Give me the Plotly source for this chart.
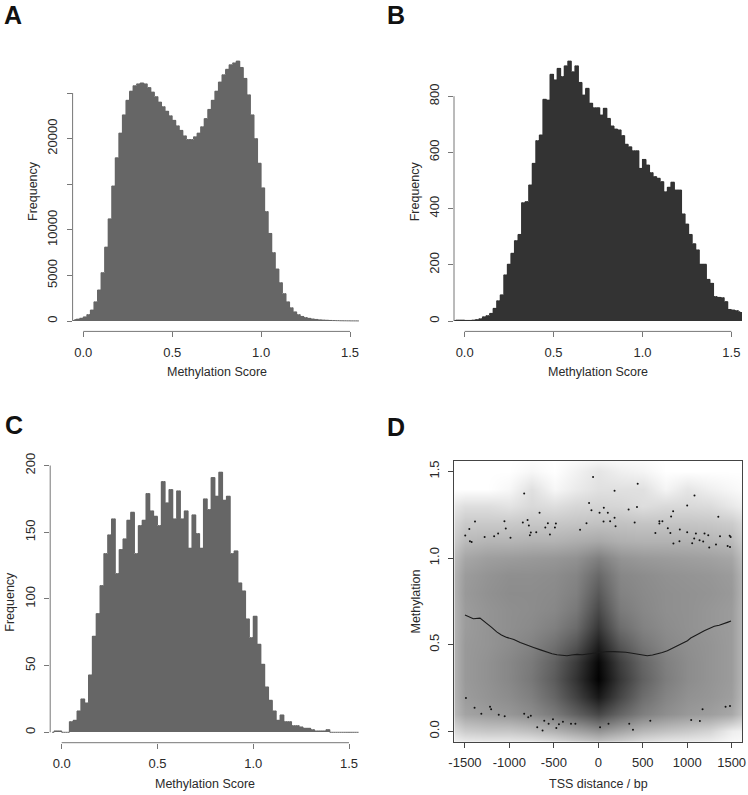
import plotly.graph_objects as go

W, H = 748, 795

# ---------------- Histogram data (breaks of 0.02 starting at -0.06) ----------------
bin_start = -0.06
bin_width = 0.02

counts_a = [150, 200, 300, 450, 700, 1200, 2100, 3400, 5300, 8100,
            11200, 14800, 17900, 20600, 22600, 24200, 25200, 25800, 26000, 26100,
            26000, 25600, 25100, 24600, 24000, 23500, 23000, 22500, 22000, 21400,
            20900, 20300, 19900, 19900, 20200, 20600, 21300, 22200, 23200, 24200,
            25200, 26200, 27000, 27600, 28100, 28300, 28500, 27800, 26600, 24800,
            22600, 20000, 17300, 14600, 12000, 9600, 7500, 5700, 4200, 3000,
            2100, 1450, 1000, 700, 500, 380, 290, 220, 170, 130,
            100, 80, 60, 50, 40, 30, 25, 20, 15, 12, 10]

counts_b = [3, 3, 3, 2, 2, 3, 5, 8, 15, 19,
            27, 45, 72, 93, 164, 202, 241, 286, 308, 421,
            425, 484, 561, 642, 662, 789, 786, 878, 858, 899,
            870, 908, 925, 887, 908, 849, 804, 828, 775, 759,
            759, 733, 757, 721, 694, 683, 680, 660, 629, 620,
            606, 606, 543, 575, 555, 528, 514, 508, 496, 460,
            476, 494, 466, 466, 381, 345, 308, 275, 253, 202,
            202, 148, 134, 87, 84, 83, 69, 41, 39, 37, 33]

counts_c = [0, 1, 1, 0, 0, 8, 9, 16, 25, 22,
            43, 72, 89, 110, 134, 148, 160, 119, 137, 145,
            159, 165, 134, 155, 159, 179, 166, 162, 155, 188,
            172, 182, 160, 181, 160, 166, 138, 163, 149, 138,
            175, 167, 191, 177, 195, 174, 177, 134, 136, 112,
            106, 85, 71, 87, 66, 51, 34, 24, 16, 9,
            13, 8, 8, 5, 5, 4, 3, 3, 2, 1,
            1, 1, 2, 0, 0, 0, 0, 0, 0, 0, 0]

hist_xticks = [0.0, 0.5, 1.0, 1.5]
hist_xticktext = ["0.0", "0.5", "1.0", "1.5"]
a_yticks = [0, 5000, 10000, 15000, 20000, 25000]
a_yticktext = ["0", "5000", "10000", "", "20000", ""]
b_yticks = [0, 200, 400, 600, 800]
c_yticks = [0, 50, 100, 150, 200]

# ---------------- Panel D data ----------------
dens_x = [-1750, -1500, -1250, -1000, -750, -500, -250, 0, 250, 500, 750, 1000, 1250, 1500, 1750]
dens_y = [-0.1, 0.0, 0.1, 0.2, 0.3, 0.4, 0.5, 0.6, 0.7, 0.8, 0.9, 1.0, 1.1, 1.2, 1.3, 1.4, 1.5, 1.6]
dens_z = [
    [0, 0, 0, 0, 0, 0.03, 0.07, 0.10, 0.07, 0.03, 0, 0, 0, 0, 0],
    [0.08, 0.20, 0.22, 0.22, 0.25, 0.30, 0.36, 0.42, 0.35, 0.28, 0.24, 0.21, 0.17, 0.07, 0.03],
    [0.18, 0.36, 0.39, 0.41, 0.45, 0.52, 0.62, 0.72, 0.60, 0.50, 0.44, 0.40, 0.38, 0.34, 0.15],
    [0.19, 0.39, 0.42, 0.45, 0.50, 0.60, 0.74, 0.90, 0.72, 0.57, 0.48, 0.43, 0.41, 0.38, 0.17],
    [0.19, 0.40, 0.43, 0.47, 0.53, 0.64, 0.80, 0.99, 0.78, 0.62, 0.51, 0.45, 0.42, 0.39, 0.18],
    [0.19, 0.40, 0.43, 0.47, 0.52, 0.62, 0.77, 0.97, 0.75, 0.60, 0.50, 0.45, 0.42, 0.39, 0.18],
    [0.19, 0.40, 0.42, 0.45, 0.49, 0.56, 0.67, 0.88, 0.66, 0.54, 0.47, 0.44, 0.42, 0.39, 0.18],
    [0.19, 0.39, 0.42, 0.44, 0.46, 0.50, 0.58, 0.78, 0.57, 0.49, 0.45, 0.43, 0.41, 0.39, 0.18],
    [0.19, 0.39, 0.42, 0.44, 0.45, 0.47, 0.53, 0.71, 0.52, 0.47, 0.44, 0.43, 0.41, 0.39, 0.18],
    [0.19, 0.40, 0.43, 0.45, 0.45, 0.46, 0.50, 0.65, 0.49, 0.46, 0.44, 0.43, 0.42, 0.40, 0.18],
    [0.19, 0.39, 0.42, 0.44, 0.44, 0.45, 0.48, 0.59, 0.47, 0.45, 0.43, 0.42, 0.41, 0.39, 0.18],
    [0.17, 0.35, 0.38, 0.39, 0.40, 0.41, 0.43, 0.50, 0.42, 0.40, 0.39, 0.38, 0.37, 0.35, 0.15],
    [0.13, 0.27, 0.29, 0.29, 0.30, 0.30, 0.32, 0.34, 0.31, 0.30, 0.30, 0.30, 0.29, 0.27, 0.12],
    [0.10, 0.21, 0.21, 0.21, 0.22, 0.22, 0.23, 0.24, 0.24, 0.23, 0.23, 0.23, 0.22, 0.20, 0.09],
    [0.06, 0.13, 0.13, 0.11, 0.15, 0.13, 0.16, 0.17, 0.16, 0.13, 0.15, 0.15, 0.14, 0.09, 0.03],
    [0, 0, 0, 0.03, 0.12, 0.03, 0.08, 0.12, 0.12, 0.12, 0.04, 0.10, 0.06, 0.03, 0],
    [0, 0, 0, 0, 0.03, 0, 0.05, 0.10, 0.06, 0.04, 0, 0, 0, 0, 0],
    [0, 0, 0, 0, 0, 0, 0, 0, 0, 0, 0, 0, 0, 0, 0],
]

dots_x = [-59, -834, -661, -104, -77, -133, -205, -1387, -1451, -1497, -1444, -1425, -1279, -1172,
          -1127, -1056, -1041, -988, -849, -796, -781, -759, -770, -698, -567, -596, -477, -488, -544,
          443, 183, 1082, 1000, 1350, 62, 435, 341, 14, 107, 183, 59, 133, 194, 409, 842, 819, 687,
          721, 687, 782, 811, 642, 917, 1000, 1098, 1195, 1237, 1079, 1139, 1180, 1056, 913, 845,
          1369, 1478, 1489, 1324, 1455, 1482, 1248,
          -1489, -1392, -1316, -1218, -1206, -1120, -1053, -834, -788, -759, -687, -627, -608, -559,
          -510, -472, -443, -398, -307, -258,
          20, 115, 348, 390, 585, 1045, 1143, 1173, 1432, 1482]
dots_y = [1.468, 1.372, 1.261, 1.318, 1.276, 1.201, 1.163, 1.211, 1.168, 1.130, 1.097, 1.092, 1.121, 1.126,
          1.142, 1.213, 1.171, 1.117, 1.205, 1.219, 1.188, 1.148, 1.132, 1.149, 1.201, 1.176, 1.200, 1.176, 1.136,
          1.428, 1.388, 1.361, 1.303, 1.238, 1.290, 1.294, 1.280, 1.261, 1.261, 1.232, 1.211, 1.213, 1.184, 1.205,
          1.270, 1.240, 1.213, 1.213, 1.200, 1.172, 1.145, 1.145, 1.165, 1.149, 1.142, 1.142, 1.132, 1.113, 1.103,
          1.096, 1.086, 1.097, 1.084, 1.125, 1.128, 1.122, 1.078, 1.069, 1.063, 1.061,
          0.192, 0.136, 0.102, 0.142, 0.127, 0.096, 0.087, 0.102, 0.081, 0.090, 0.023, 0.004, 0.061, 0.044,
          0.069, 0.019, 0.040, 0.055, 0.044, 0.044,
          0.023, 0.044, 0.044, 0.009, 0.061, 0.065, 0.059, 0.127, 0.142, 0.146]

tss_line_x = [-1500, -1450, -1406, -1331, -1256, -1200, -1143, -1090, -1030, -950, -879, -800, -728,
              -650, -578, -520, -465, -410, -352, -300, -239, -180, -126, -70, -13, 40, 100, 170, 251,
              310, 364, 420, 477, 551, 610, 664, 720, 777, 830, 890, 950, 1003, 1040, 1079, 1130, 1192,
              1250, 1305, 1360, 1418, 1460, 1493]
tss_line_y = [0.671, 0.660, 0.650, 0.653, 0.625, 0.600, 0.574, 0.556, 0.542, 0.530, 0.513, 0.500, 0.484,
              0.470, 0.456, 0.448, 0.442, 0.438, 0.436, 0.440, 0.444, 0.442, 0.446, 0.450, 0.456, 0.459, 0.461,
              0.460, 0.459, 0.456, 0.452, 0.447, 0.440, 0.436, 0.440, 0.446, 0.455, 0.465, 0.478, 0.494, 0.510,
              0.523, 0.538, 0.551, 0.563, 0.580, 0.592, 0.606, 0.612, 0.625, 0.630, 0.636]
d_xticks = [-1500, -1000, -500, 0, 500, 1000, 1500]
d_yticks = [0.0, 0.5, 1.0, 1.5]
d_yticktext = ["0.0", "0.5", "1.0", "1.5"]

# ---------------- Styling ----------------
FONT = "Liberation Sans, Arial, Helvetica, sans-serif"
TEXT_COL = "#2a2a2a"
AXIS_COL = "#777777"
BOX_COL = "#444444"
FS = 13

def fx(p):
    return p / W

def fy(p):
    return 1 - p / H

centers = [round(bin_start + bin_width * (i + 0.5), 4) for i in range(len(counts_a))]

fig = go.Figure()
for cnt, col, xa, ya in [(counts_a, "#666666", "x", "y"), (counts_b, "#333333", "x2", "y2"),
                         (counts_c, "#666666", "x3", "y3")]:
    fig.add_trace(go.Bar(x=centers, y=cnt, width=bin_width,
                         marker=dict(color=col, line=dict(width=0)),
                         xaxis=xa, yaxis=ya, hoverinfo="skip"))
    # thin outline along the bar tops so that very low bins stay visible (as in R)
    fig.add_trace(go.Scatter(x=centers, y=cnt, mode="lines", line=dict(color=col, width=1, shape="hvh"),
                             xaxis=xa, yaxis=ya, hoverinfo="skip"))

fig.add_trace(go.Heatmap(x=dens_x, y=dens_y, z=dens_z, colorscale=[[0, "#ffffff"], [1, "#000000"]],
                         zmin=0, zmax=1, zsmooth="best", showscale=False, xaxis="x4", yaxis="y4",
                         hoverinfo="skip"))
fig.add_trace(go.Scatter(x=dots_x, y=dots_y, mode="markers", marker=dict(size=2, color="#111111", line=dict(width=0)),
                         xaxis="x4", yaxis="y4", hoverinfo="skip"))
fig.add_trace(go.Scatter(x=tss_line_x, y=tss_line_y, mode="lines", line=dict(color="#1a1a1a", width=1.1),
                         xaxis="x4", yaxis="y4", hoverinfo="skip"))

# Domains in pixels
dom = {
    "A": ((72.6, 360.7), (50.7, 331.4)),
    "B": ((454.0, 742.0), (50.7, 331.4)),
    "C": ((50.2, 360.5), (461.8, 742.7)),
    "D": ((454.3, 742.3), (461.0, 741.7)),
}

def xdom(k):
    (l, r), _ = dom[k]
    return [fx(l), fx(r)]

def ydom(k):
    _, (t, b) = dom[k]
    return [fy(b), fy(t)]

def yr(vals):
    m = max(vals)
    return [-0.04 * m, 1.04 * m]

tickfont = dict(family=FONT, size=FS, color=TEXT_COL)
common_x = dict(range=[-0.06, 1.56], tickvals=hist_xticks, ticktext=hist_xticktext, ticks="outside",
                ticklen=5, tickcolor=AXIS_COL, tickwidth=1, showline=False, showgrid=False, zeroline=False,
                tickfont=tickfont, ticklabelstandoff=4, fixedrange=True, automargin=False)
common_y = dict(ticks="outside", ticklen=5, tickcolor=AXIS_COL, tickwidth=1, showline=False, showgrid=False,
                zeroline=False, tickfont=tickfont, tickangle=-90, ticklabelstandoff=4, fixedrange=True,
                automargin=False)

fig.update_layout(
    template="none",
    width=W, height=H, margin=dict(l=0, r=0, t=0, b=0, pad=0), autosize=False,
    paper_bgcolor="white", plot_bgcolor="white", showlegend=False, bargap=0,
    font=dict(family=FONT, color=TEXT_COL),
    xaxis=dict(domain=xdom("A"), anchor="y", **common_x),
    yaxis=dict(domain=ydom("A"), anchor="x", range=yr(counts_a), tickvals=a_yticks, ticktext=a_yticktext, **common_y),
    xaxis2=dict(domain=xdom("B"), anchor="y2", **common_x),
    yaxis2=dict(domain=ydom("B"), anchor="x2", range=yr(counts_b), tickvals=b_yticks,
                ticktext=[str(v) for v in b_yticks], **common_y),
    xaxis3=dict(domain=xdom("C"), anchor="y3", **common_x),
    yaxis3=dict(domain=ydom("C"), anchor="x3", range=yr(counts_c), tickvals=c_yticks,
                ticktext=[str(v) for v in c_yticks], **common_y),
    xaxis4=dict(domain=xdom("D"), anchor="y4", range=[-1620, 1620], tickvals=d_xticks,
                ticktext=[str(v) for v in d_xticks], ticks="outside", ticklen=5, tickcolor=BOX_COL,
                showline=True, mirror=True, linecolor=BOX_COL, linewidth=1, showgrid=False, zeroline=False,
                tickfont=tickfont, ticklabelstandoff=4, fixedrange=True, automargin=False),
    yaxis4=dict(domain=ydom("D"), anchor="x4", range=[-0.06, 1.56], tickvals=d_yticks, ticktext=d_yticktext,
                ticks="outside", ticklen=5, tickcolor=BOX_COL, showline=True, mirror=True, linecolor=BOX_COL,
                linewidth=1, showgrid=False, zeroline=False, tickfont=tickfont, tickangle=-90,
                ticklabelstandoff=4, fixedrange=True, automargin=False),
)

# R-style axis lines (from first to last tick) for the histograms
shapes = []
for xa, ya, yt in [("x", "y", a_yticks), ("x2", "y2", b_yticks), ("x3", "y3", c_yticks)]:
    shapes.append(dict(type="line", xref=xa, yref=ya + " domain", x0=hist_xticks[0], x1=hist_xticks[-1],
                       y0=0, y1=0, line=dict(color=AXIS_COL, width=1)))
    shapes.append(dict(type="line", xref=xa + " domain", yref=ya, x0=0, x1=0, y0=yt[0], y1=yt[-1],
                       line=dict(color=AXIS_COL, width=1)))
fig.update_layout(shapes=shapes)

ann = []
def text(x, y, s, size=12.5, angle=0, bold=False, xanchor="center"):
    ann.append(dict(x=fx(x), y=fy(y), xref="paper", yref="paper", text=("<b>%s</b>" % s) if bold else s,
                    showarrow=False, textangle=angle, xanchor=xanchor, yanchor="middle",
                    font=dict(family=FONT, size=size, color="#111111" if bold else TEXT_COL)))

# axis titles
text(216.6, 372, "Methylation Score")
text(598, 372, "Methylation Score")
text(205, 784, "Methylation Score")
text(598, 784, "TSS distance / bp")
text(33, 191, "Frequency", angle=-90)
text(415.3, 191, "Frequency", angle=-90)
text(10, 601.7, "Frequency", angle=-90)
text(415.5, 602, "Methylation", angle=-90)

# panel letters
text(2, 15.5, "A", size=25, bold=True, xanchor="left")
text(385, 15.5, "B", size=25, bold=True, xanchor="left")
text(3, 425, "C", size=25, bold=True, xanchor="left")
text(385, 427, "D", size=25, bold=True, xanchor="left")

fig.update_layout(annotations=ann)

fig.write_html("out.html",
               config={"displayModeBar": False, "staticPlot": True},
               post_script="document.documentElement.style.margin='0';document.body.style.margin='0';"
                           "document.body.style.padding='0';document.body.style.overflow='hidden';")
